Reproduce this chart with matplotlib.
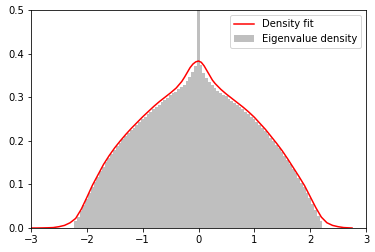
import numpy as np
import matplotlib
matplotlib.use("Agg")
import matplotlib.pyplot as plt

# Histogram of eigenvalues (density), bins of width 0.05 starting at -2.23
bin_start = -2.23
bin_width = 0.05
hist_heights = [
    0.015, 0.026, 0.038, 0.052, 0.066, 0.080, 0.094, 0.106, 0.118, 0.130,
    0.141, 0.151, 0.161, 0.170, 0.179, 0.187, 0.195, 0.203, 0.210, 0.217,
    0.224, 0.230, 0.237, 0.243, 0.249, 0.255, 0.261, 0.267, 0.272, 0.278,
    0.283, 0.289, 0.294, 0.299, 0.304, 0.309, 0.313, 0.318, 0.323, 0.329,
    0.337, 0.346, 0.358, 0.372, 0.620, 0.375, 0.356, 0.343, 0.334, 0.327,
    0.320, 0.315, 0.310, 0.306, 0.302, 0.297, 0.292, 0.287, 0.282, 0.277,
    0.272, 0.266, 0.261, 0.255, 0.249, 0.243, 0.236, 0.229, 0.222, 0.215,
    0.207, 0.199, 0.191, 0.183, 0.174, 0.165, 0.156, 0.146, 0.136, 0.126,
    0.115, 0.104, 0.093, 0.081, 0.068, 0.055, 0.041, 0.028, 0.015,
]

# Density fit curve
fit_x = [-3.0, -2.9, -2.8, -2.7, -2.6, -2.5, -2.4, -2.3, -2.2, -2.1,
         -2.0, -1.9, -1.8, -1.7, -1.6, -1.5, -1.4, -1.3, -1.2, -1.1,
         -1.0, -0.9, -0.8, -0.7, -0.6, -0.5, -0.4, -0.3, -0.25, -0.2, -0.15, -0.1, -0.05,
         0.0, 0.05, 0.1, 0.15, 0.2, 0.25, 0.3, 0.4, 0.5, 0.6, 0.7, 0.8, 0.9,
         1.0, 1.1, 1.2, 1.3, 1.4, 1.5, 1.6, 1.7, 1.8, 1.9,
         2.0, 2.1, 2.2, 2.3, 2.4, 2.5, 2.6, 2.7, 2.75]
fit_y = [0.0, 0.0, 0.0002, 0.0005, 0.001, 0.003, 0.006, 0.012, 0.022, 0.043,
         0.070, 0.098, 0.122, 0.146, 0.166, 0.184, 0.200, 0.215, 0.229, 0.242,
         0.255, 0.267, 0.279, 0.290, 0.300, 0.310, 0.321, 0.336, 0.346, 0.357, 0.368, 0.376, 0.381,
         0.383, 0.380, 0.372, 0.361, 0.350, 0.339, 0.331, 0.318, 0.307, 0.297, 0.287, 0.277, 0.266,
         0.254, 0.240, 0.226, 0.210, 0.194, 0.177, 0.158, 0.138, 0.118, 0.097,
         0.072, 0.047, 0.025, 0.012, 0.006, 0.003, 0.001, 0.0003, 0.0]

x_ticks = [-3, -2, -1, 0, 1, 2, 3]
y_ticks = [0.0, 0.1, 0.2, 0.3, 0.4, 0.5]

fig = plt.figure(figsize=(375/72, 252/72), dpi=72)
ax = fig.add_axes([31/375, 24/252, 335/375, 218/252])

edges = bin_start + bin_width * np.arange(len(hist_heights) + 1)
centers = (edges[:-1] + edges[1:]) / 2

ax.plot(fit_x, fit_y, color="red", lw=1.5, label="Density fit")
ax.hist(centers, bins=edges, weights=hist_heights, color="#bfbfbf",
        label="Eigenvalue density")

ax.set_xlim(-3, 3)
ax.set_ylim(0, 0.5)
ax.set_xticks(x_ticks)
ax.set_yticks(y_ticks)
ax.legend(loc="upper right")

fig.savefig("out.png", dpi=72)
